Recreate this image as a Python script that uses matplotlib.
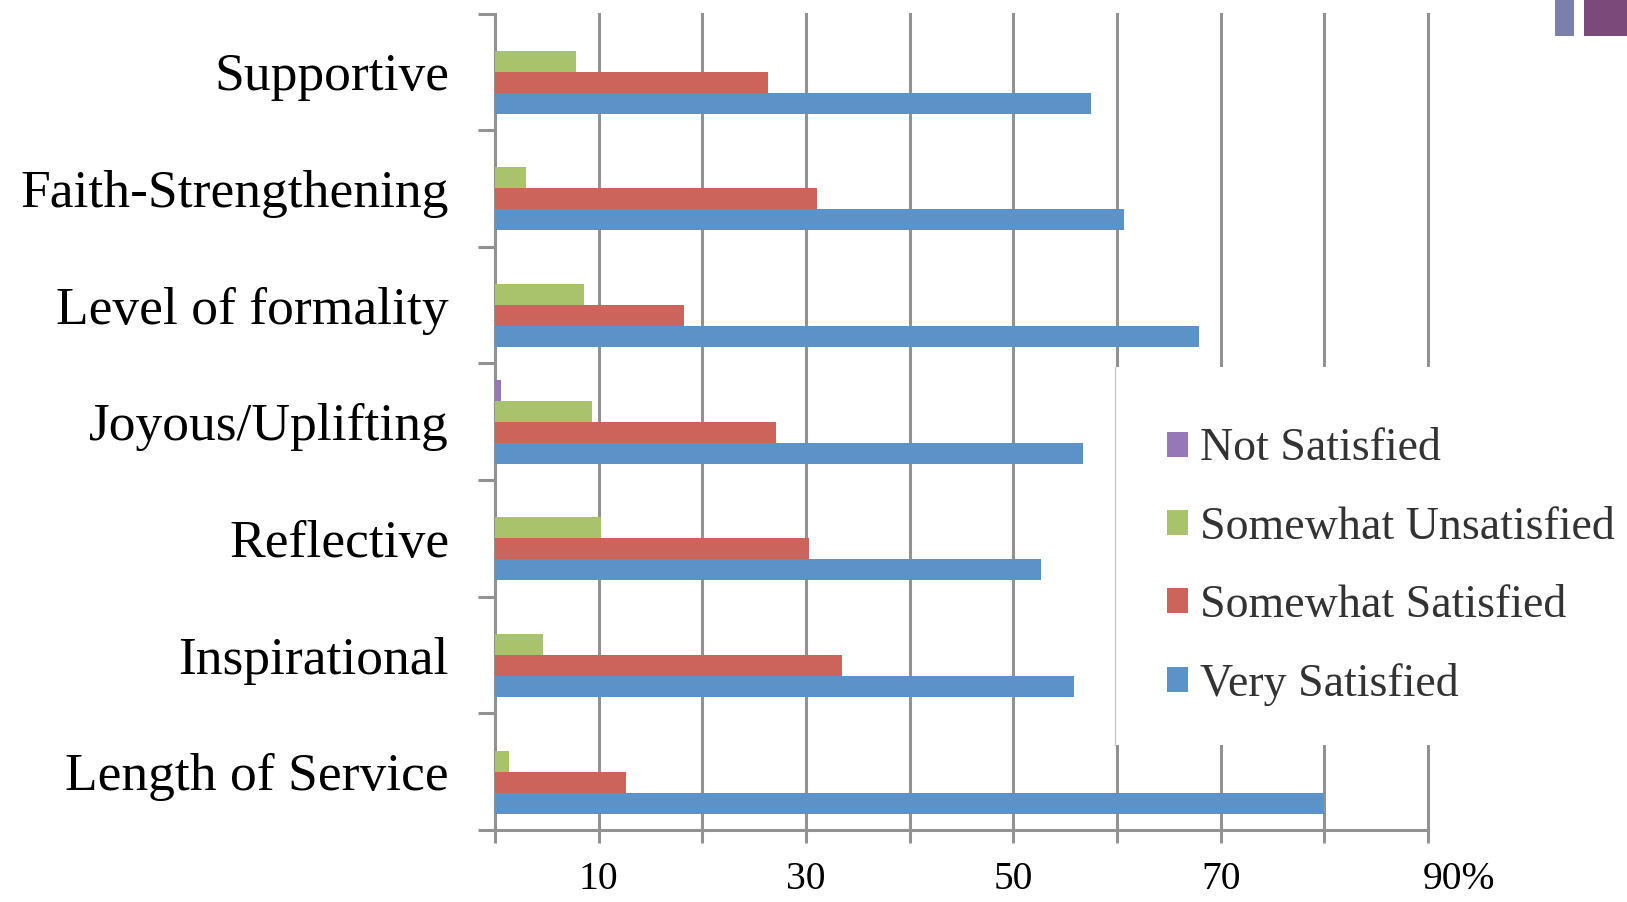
import numpy as np
import matplotlib.pyplot as plt
from matplotlib.patches import Rectangle
from matplotlib.lines import Line2D
from matplotlib.transforms import ScaledTranslation

# %%
categories = ["Supportive", "Faith-Strengthening", "Level of formality",
              "Joyous/Uplifting", "Reflective", "Inspirational", "Length of Service"]
not_satisfied = [0, 0, 0, 0.6, 0, 0, 0]
somewhat_unsatisfied = [7.8, 3.0, 8.6, 9.4, 10.2, 4.6, 1.4]
somewhat_satisfied = [26.3, 31.1, 18.2, 27.1, 30.3, 33.5, 12.6]
very_satisfied = [57.5, 60.7, 67.9, 56.7, 52.7, 55.9, 80.0]
series_names = ["Not Satisfied", "Somewhat Unsatisfied", "Somewhat Satisfied", "Very Satisfied"]
x_tick_values = [10, 30, 50, 70, 90]
x_tick_labels = ["10", "30", "50", "70", "90%"]

colors = ["#9678b6", "#a8c36b", "#cc645c", "#5b93c9"]
GRID = "#929292"
SERIF = "Liberation Serif"

# %%
fig = plt.figure(figsize=(16.27, 9.02), dpi=100)
ax = fig.add_axes([0.3042, 0.0798, 0.5735, 0.9052])

y = np.arange(len(categories))
bar_h = 0.18
offsets = [-0.27, -0.09, 0.09, 0.27]
for vals, name, col, off in zip([not_satisfied, somewhat_unsatisfied, somewhat_satisfied, very_satisfied],
                                series_names, colors, offsets):
    ax.barh(y + off, vals, height=bar_h, color=col, label=name, zorder=3)

ax.set_xlim(0, 90)
ax.set_ylim(len(categories) - 0.5, -0.5)

# x axis: gridlines every 10, labels on odd tens
ax.xaxis.remove_overlapping_locs = False
ax.set_xticks(np.arange(0, 91, 10))
ax.set_xticklabels([""] * 10)
ax.set_xticks(x_tick_values, minor=True)
ax.set_xticklabels(x_tick_labels, minor=True, family=SERIF, fontsize=28.5)
ax.tick_params(axis="x", which="major", direction="out", length=9, width=2.2, color=GRID)
ax.tick_params(axis="x", which="minor", length=0, pad=22)
ax.xaxis.grid(True, which="major", color=GRID, linewidth=2.2)
ax.set_axisbelow(True)
for gl in ax.get_xgridlines():
    gl.set_clip_on(False)
for lab in ax.get_xticklabels(minor=True):
    if lab.get_text().endswith("%"):
        lab.set_transform(lab.get_transform() + ScaledTranslation(0.31, 0, fig.dpi_scale_trans))

# y axis: ticks at category boundaries, labels centred
ax.set_yticks(np.arange(-0.5, len(categories), 1.0))
ax.set_yticklabels([""] * (len(categories) + 1))
ax.set_yticks(y, minor=True)
ax.set_yticklabels(categories, minor=True, family=SERIF, fontsize=38.5)
ax.tick_params(axis="y", which="major", direction="out", length=12, width=2.2, color=GRID)
ax.tick_params(axis="y", which="minor", length=0, pad=33)

for s in ["top", "right"]:
    ax.spines[s].set_visible(False)
for s in ["left", "bottom"]:
    ax.spines[s].set_color(GRID)
    ax.spines[s].set_linewidth(2.2)

# legend panel
ax.add_patch(Rectangle((1115 / 1627, 1 - 745 / 902), 0.4, (745 - 367) / 902,
                       transform=fig.transFigure, facecolor="white", edgecolor="none",
                       zorder=5, clip_on=False))
ax.add_line(Line2D([1115 / 1627] * 2, [1 - 745 / 902, 1 - 367 / 902], transform=fig.transFigure,
                   color="#c8c8c8", linewidth=1, zorder=6, clip_on=False))
leg = ax.legend(loc="upper left", bbox_to_anchor=(1167 / 1627, 1 - 428 / 902),
                bbox_transform=fig.transFigure, frameon=False, prop={"family": SERIF, "size": 33},
                handlelength=0.46, handleheight=0.46, handletextpad=0.26, labelspacing=0.78,
                borderpad=0, borderaxespad=0)
leg.set_zorder(7)
for t in leg.get_texts():
    t.set_color("#333333")

# decorative corner squares
fig.patches.append(Rectangle((1555 / 1627, 1 - 36 / 902), 19 / 1627, 36 / 902,
                             transform=fig.transFigure, facecolor="#7b7fab", edgecolor="none"))
fig.patches.append(Rectangle((1584 / 1627, 1 - 36 / 902), 43 / 1627, 36 / 902,
                             transform=fig.transFigure, facecolor="#7c4a7a", edgecolor="none"))

fig.savefig("out.png", dpi=100)
